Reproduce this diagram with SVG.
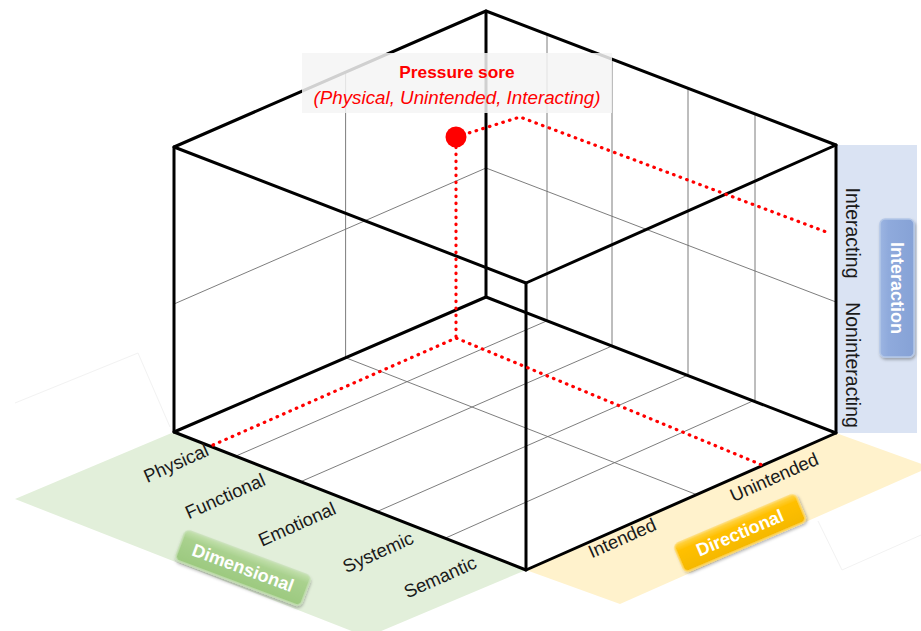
<svg xmlns="http://www.w3.org/2000/svg" width="921" height="631" viewBox="0 0 921 631">
<defs>
<style>
.edge{stroke:#000;stroke-width:3;fill:none;stroke-linecap:round;stroke-linejoin:round}
.grid{stroke:#6e6e6e;stroke-width:0.9;fill:none}
.ghost{stroke:#f2f2f2;stroke-width:1;fill:none}
.dot{stroke:#ff0000;stroke-width:3.2;fill:none;stroke-dasharray:0.6 6.4;stroke-linecap:round}
.lbl{font-family:"Liberation Sans",Arial,sans-serif;font-size:18.5px;fill:#1a1a1a;text-anchor:middle;dominant-baseline:central}
.vlbl{font-family:"Liberation Sans",Arial,sans-serif;font-size:19.5px;fill:#1a1a1a;text-anchor:middle;dominant-baseline:central}
.badge{font-family:"Liberation Sans",Arial,sans-serif;font-size:18px;font-weight:bold;fill:#fff;text-anchor:middle;dominant-baseline:central}
</style>
<filter id="sh" x="-20%" y="-30%" width="140%" height="160%">
<feDropShadow dx="1" dy="2" stdDeviation="1.5" flood-color="#000" flood-opacity="0.3"/>
</filter>
<linearGradient id="gG" x1="0" y1="0" x2="0" y2="1">
<stop offset="0" stop-color="#c3e0ad"/><stop offset="0.25" stop-color="#a9d18e"/><stop offset="1" stop-color="#9cc97f"/>
</linearGradient>
<linearGradient id="gY" x1="0" y1="0" x2="0" y2="1">
<stop offset="0" stop-color="#ffd54d"/><stop offset="0.25" stop-color="#ffc000"/><stop offset="1" stop-color="#f5b800"/>
</linearGradient>
<linearGradient id="gB" x1="0" y1="0" x2="1" y2="0">
<stop offset="0" stop-color="#9cb5e2"/><stop offset="0.25" stop-color="#8faadc"/><stop offset="1" stop-color="#86a2d6"/>
</linearGradient>
</defs>
<rect width="921" height="631" fill="#fff"/>
<g id="planes">
<polygon points="15,499 174,432 526,570 367,637" fill="#e2efda"/>
<polygon points="526,570 836,433 930,467 620,604" fill="#fff2cc"/>
<rect x="836" y="145" width="81" height="288" fill="#dae3f3"/>
<polyline class="ghost" points="15,403 138,353 170,427"/>
<polyline class="ghost" points="818,521 842,570 921,535"/>
</g>
<g id="grid">
<line class="grid" x1="345.6" y1="72" x2="345.6" y2="357.7"/>
<line class="grid" x1="174" y1="304" x2="486" y2="168"/>
<line class="grid" x1="486" y1="168" x2="836" y2="302"/>
<line class="grid" x1="547" y1="34.5" x2="547" y2="320.8"/>
<line class="grid" x1="612" y1="59.2" x2="612" y2="346"/>
<line class="grid" x1="688" y1="88.3" x2="688" y2="375"/>
<line class="grid" x1="755" y1="114" x2="755" y2="400"/>
<line class="grid" x1="235.6" y1="456.2" x2="547" y2="320.8"/>
<line class="grid" x1="300.7" y1="481.7" x2="612" y2="346"/>
<line class="grid" x1="377" y1="511.6" x2="688" y2="375"/>
<line class="grid" x1="445" y1="538.3" x2="755" y2="400"/>
<line class="grid" x1="345.6" y1="357.7" x2="696.5" y2="494.6"/>
</g>
<g id="cube">
<polygon class="edge" points="486,11 836,145 526,283 174,147"/>
<polyline class="edge" points="174,147 174,432 526,570 836,433 836,145"/>
<line class="edge" x1="526" y1="283" x2="526" y2="570"/>
<polyline class="edge" points="174,432 486,297 836,433"/>
<line class="edge" x1="486" y1="11" x2="486" y2="297"/>
</g>
<g id="connectors">
<polyline class="dot" points="456,137 520,117 829,233"/>
<polyline class="dot" points="456,147 456,338"/>
<polyline class="dot" points="213,445 456,338 762,465"/>
</g>
<g id="point">
<circle cx="456" cy="137" r="10.5" fill="#ff0000"/>
</g>
<g id="callout">
<rect x="302" y="53" width="310" height="60" fill="#f5f5f5" fill-opacity="0.85"/>
<text x="457" y="78" font-family="'Liberation Sans',Arial,sans-serif" font-size="17.3" font-weight="bold" fill="#ff0000" text-anchor="middle">Pressure sore</text>
<text x="457" y="104" font-family="'Liberation Sans',Arial,sans-serif" font-size="18.8" font-style="italic" fill="#ff0000" text-anchor="middle">(Physical, Unintended, Interacting)</text>
</g>
<g id="dimensional-labels">
<text class="lbl" transform="translate(176,463) rotate(-24)">Physical</text>
<text class="lbl" transform="translate(225,496) rotate(-24)">Functional</text>
<text class="lbl" transform="translate(297,524) rotate(-24)">Emotional</text>
<text class="lbl" transform="translate(378,552) rotate(-24)">Systemic</text>
<text class="lbl" transform="translate(440,577) rotate(-24)">Semantic</text>
</g>
<g id="directional-labels">
<text class="lbl" transform="translate(622,538) rotate(-24)">Intended</text>
<text class="lbl" transform="translate(774,477) rotate(-24)">Unintended</text>
</g>
<g id="interaction-labels">
<text class="vlbl" transform="translate(853,233) rotate(90)">Interacting</text>
<text class="vlbl" transform="translate(853,365) rotate(90)">Noninteracting</text>
</g>
<g id="badge-dimensional" transform="translate(243,568) rotate(20.5)">
<rect x="-67" y="-16" width="134" height="32" rx="5" fill="url(#gG)" stroke="#c5e0b4" stroke-width="1.5" filter="url(#sh)"/>
<text class="badge" x="0" y="0">Dimensional</text>
</g>
<g id="badge-directional" transform="translate(740,533) rotate(-23)">
<rect x="-66" y="-15" width="132" height="30" rx="5" fill="url(#gY)" stroke="#ffd966" stroke-width="1.5" filter="url(#sh)"/>
<text class="badge" x="0" y="0">Directional</text>
</g>
<g id="badge-interaction">
<rect x="880" y="219" width="34" height="138" rx="5" fill="url(#gB)" stroke="#b4c7e7" stroke-width="1.5" filter="url(#sh)"/>
<text class="badge" transform="translate(897,288) rotate(90)">Interaction</text>
</g>
</svg>
